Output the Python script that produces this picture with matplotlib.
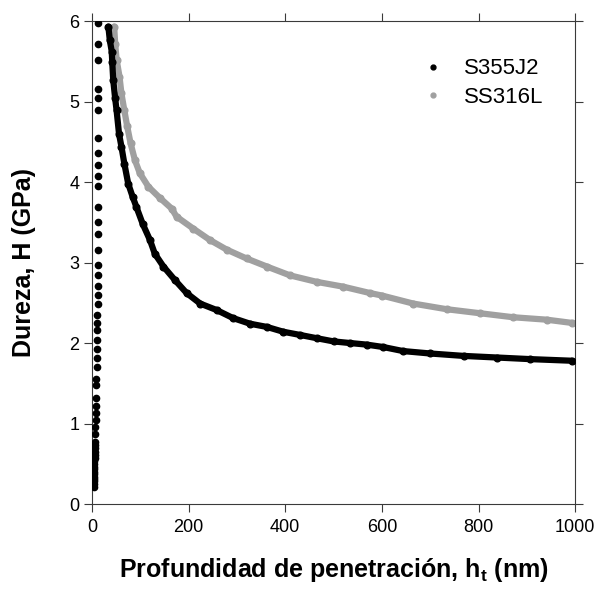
import matplotlib
matplotlib.use("Agg")
import matplotlib.pyplot as plt
from matplotlib.lines import Line2D

plt.rcParams['font.family'] = ['Liberation Sans', 'DejaVu Sans']
plt.rcParams['mathtext.fontset'] = 'custom'
plt.rcParams['mathtext.bf'] = 'Liberation Sans:bold'
plt.rcParams['mathtext.rm'] = 'Liberation Sans'

# S355J2 - loading segment (near-vertical dots close to h=0)
load_h = [4, 4, 4, 4, 4.2, 4.3, 4.5, 4.6, 4.8, 5, 5.2, 5.4, 5.6, 5.8, 6, 6.2, 6.5,
          7, 7.3, 7.6, 8, 8.3, 8.6, 9, 9.4, 9.8, 10.2, 10.5, 10.8, 11, 11.2, 11.4,
          11.6, 11.7, 11.8, 11.9, 12, 12.1, 12.2, 12.3, 12.4, 12.5, 12.6, 12.7, 12.8,
          12.8, 13, 13, 13.2, 13.3, 13.4, 13.5]
load_H = [0.21, 0.25, 0.28, 0.31, 0.34, 0.37, 0.40, 0.43, 0.46, 0.50, 0.54, 0.57, 0.61,
          0.65, 0.69, 0.73, 0.77, 0.87, 0.96, 1.05, 1.13, 1.22, 1.32, 1.48, 1.55,
          1.70, 1.82, 1.92, 2.04, 2.16, 2.25, 2.35, 2.49, 2.60, 2.71, 2.84, 2.97,
          3.16, 3.35, 3.50, 3.69, 3.95, 4.07, 4.21, 4.36,
          4.55, 4.89, 5.04, 5.15, 5.52, 5.72, 5.97]

# S355J2 - main curve
s355_h = [34, 37, 41, 42, 44, 48, 51, 56, 61, 67, 75, 84, 92, 105, 120, 130, 148, 172,
          196, 224, 258, 292, 327, 362, 396, 431, 465, 500, 534, 569, 603, 644, 700,
          769, 838, 907, 993]
s355_H = [5.93, 5.76, 5.62, 5.49, 5.27, 5.04, 4.89, 4.60, 4.44, 4.23, 3.98, 3.82, 3.69,
          3.48, 3.28, 3.11, 2.95, 2.78, 2.62, 2.49, 2.41, 2.31, 2.24, 2.20, 2.14, 2.10,
          2.06, 2.02, 2.00, 1.98, 1.95, 1.90, 1.87, 1.84, 1.82, 1.80, 1.78]

# SS316L - main curve
ss316_h = [46, 48, 51, 57, 61, 67, 73, 80, 89, 99, 117, 141, 165, 175, 210, 244, 279,
           320, 362, 410, 465, 520, 576, 600, 665, 734, 803, 872, 941, 993]
ss316_H = [5.93, 5.72, 5.52, 5.31, 5.10, 4.89, 4.69, 4.48, 4.27, 4.11, 3.94, 3.80, 3.67,
           3.57, 3.42, 3.28, 3.16, 3.05, 2.95, 2.84, 2.76, 2.70, 2.62, 2.59, 2.49, 2.42,
           2.37, 2.32, 2.29, 2.25]

series = ['S355J2', 'SS316L']
xticks = [0, 200, 400, 600, 800, 1000]
yticks = [0, 1, 2, 3, 4, 5, 6]

black = '#000000'
grey = '#a0a0a0'
spine_c = '#3a3a3a'

fig = plt.figure(figsize=(6.01, 5.92), dpi=100)
ax = fig.add_axes([0.153, 0.1486, 0.804, 0.8159])

# the dense dots merge into a thick line, so draw the line plus the read points
ax.plot(ss316_h, ss316_H, color=grey, lw=4.5, solid_capstyle='round',
        solid_joinstyle='round', zorder=2)
ax.plot(ss316_h, ss316_H, 'o', color=grey, ms=4.8, zorder=2)
ax.plot(s355_h, s355_H, color=black, lw=4.5, solid_capstyle='round',
        solid_joinstyle='round', zorder=3)
ax.plot(s355_h, s355_H, 'o', color=black, ms=4.8, zorder=3)
ax.plot(load_h, load_H, 'o', color=black, ms=4.5, zorder=3)

ax.set_xlim(0, 1000)
ax.set_ylim(0, 6)
ax.set_xticks(xticks)
ax.set_yticks(yticks)
ax.tick_params(direction='out', length=6, width=0.8, color=spine_c,
               labelsize=13, top=True, right=True, labeltop=False, labelright=False)
ax.tick_params(axis='x', pad=5)
ax.tick_params(axis='y', pad=3)
for s in ax.spines.values():
    s.set_color(spine_c)
    s.set_linewidth(0.8)

ax.set_xlabel(r'Profundidad de penetración, h$_{\mathbf{t}}$ (nm)',
              fontsize=18, fontweight='bold', labelpad=14)
ax.set_ylabel('Dureza, H (GPa)', fontsize=18, fontweight='bold', labelpad=24)

handles = [Line2D([], [], ls='none', marker='o', color=black, ms=3.5),
           Line2D([], [], ls='none', marker='o', color=grey, ms=3.5)]
ax.legend(handles, series, loc='upper left',
          bbox_to_anchor=(0.642, 0.964), frameon=False, fontsize=16,
          handlelength=1.0, handletextpad=0.9, labelspacing=0.33)

fig.savefig('out.png', dpi=100)
